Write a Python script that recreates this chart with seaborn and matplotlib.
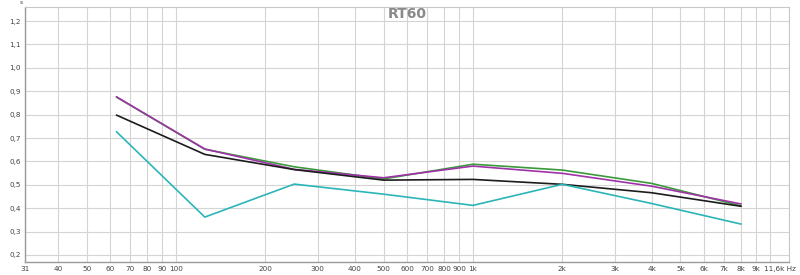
import numpy as np
import pandas as pd
import matplotlib
matplotlib.use("Agg")
import matplotlib.pyplot as plt
import matplotlib.ticker as mticker
import matplotlib.transforms as mtransforms
import seaborn as sns

freqs = [63, 125, 250, 500, 1000, 2000, 4000, 8000]
green = [0.875, 0.652, 0.577, 0.525, 0.588, 0.563, 0.506, 0.410]
purple = [0.876, 0.653, 0.566, 0.530, 0.580, 0.549, 0.494, 0.418]
black = [0.798, 0.630, 0.565, 0.520, 0.523, 0.502, 0.466, 0.408]
cyan = [0.727, 0.362, 0.503, 0.460, 0.412, 0.502, 0.420, 0.332]

series_names = ["green", "purple", "black", "cyan"]
series_colors = ["#3a9a3a", "#a032a8", "#1c1c1c", "#2bb5b8"]

xtick_vals = [31, 40, 50, 60, 70, 80, 90, 100, 200, 300, 400, 500, 600, 700, 800, 900,
              1000, 2000, 3000, 4000, 5000, 6000, 7000, 8000, 9000, 11600]
xtick_labels = ["31", "40", "50", "60", "70", "80", "90", "100", "200", "300", "400", "500",
                "600", "700", "800", "900", "1k", "2k", "3k", "4k", "5k", "6k", "7k", "8k",
                "9k", "11,6k Hz"]
ytick_vals = [0.2, 0.3, 0.4, 0.5, 0.6, 0.7, 0.8, 0.9, 1.0, 1.1, 1.2]

df = pd.DataFrame({
    "freq": freqs * 4,
    "rt60": green + purple + black + cyan,
    "series": sum([[n] * len(freqs) for n in series_names], []),
})

sns.set_theme(style="white")
plt.rcParams["font.family"] = ["DejaVu Sans"]

fig = plt.figure(figsize=(8, 2.75), dpi=100)
ax = fig.add_axes([25 / 800, 1 - 262 / 275, (789 - 25) / 800, (262 - 7) / 275])

ax.set_xscale("log")
ax.set_xlim(31, 11600)
ax.set_ylim(0.17, 1.26)

grid_c = "#d4d4d4"
for xv in xtick_vals + [10000]:
    ax.axvline(xv, color=grid_c, lw=0.8, zorder=0)
for yv in ytick_vals:
    ax.axhline(yv, color=grid_c, lw=0.8, zorder=0)

sns.lineplot(data=df, x="freq", y="rt60", hue="series", hue_order=series_names,
             palette=dict(zip(series_names, series_colors)), ax=ax, legend=False,
             linewidth=1.2, estimator=None, sort=False)

ax.xaxis.set_major_locator(mticker.FixedLocator(xtick_vals))
ax.xaxis.set_major_formatter(mticker.FixedFormatter(xtick_labels))
ax.xaxis.set_minor_locator(mticker.NullLocator())
ax.set_yticks(ytick_vals)
ax.set_yticklabels([f"{v:.1f}".replace(".", ",") for v in ytick_vals])
ax.tick_params(axis="both", labelsize=5.2, colors="#444444", length=0, pad=3)
ax.set_xlabel("")
ax.set_ylabel("")

# last x tick label: right-aligned, shifted a bit right like the reference
last = ax.get_xticklabels()[-1]
last.set_horizontalalignment("right")
last.set_transform(last.get_transform() +
                   mtransforms.ScaledTranslation(7 / 100, 0, fig.dpi_scale_trans))

for side in ["top", "right"]:
    ax.spines[side].set_color("#c8c8c8")
    ax.spines[side].set_linewidth(0.8)
for side in ["left", "bottom"]:
    ax.spines[side].set_color("#9a9a9a")
    ax.spines[side].set_linewidth(1.0)

ax.text(0.5, 1 - 7 / 255, "RT60", transform=ax.transAxes, ha="center", va="center",
        fontsize=10, fontweight="bold", color="#8a8a8a")
fig.text(21 / 800, 1 - 3 / 275, "s", ha="center", va="center", fontsize=4.5, color="#444444")

fig.savefig("out.png", dpi=100)
